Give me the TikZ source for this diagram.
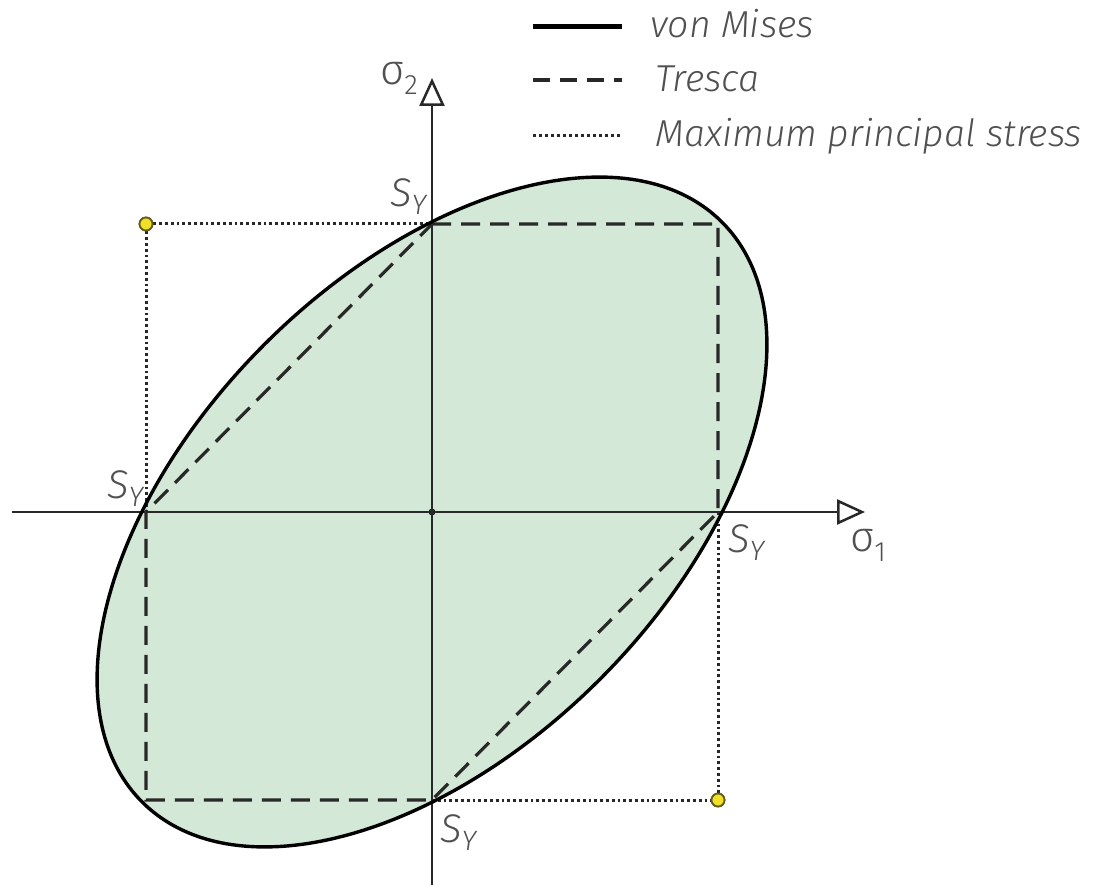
\documentclass[tikz,border=0pt]{standalone}
\usepackage{fontspec}
\newfontfamily\lf{Fira Sans Light}[ItalicFont={Fira Sans Light Italic}]
\usetikzlibrary{arrows.meta}
\definecolor{fillg}{RGB}{212,232,215}
\definecolor{ink}{RGB}{40,40,40}
\definecolor{txt}{RGB}{80,80,80}
\definecolor{dotY}{RGB}{240,225,40}
\definecolor{dotE}{RGB}{100,95,30}
\newcommand{\Ysub}{\raisebox{-8pt}{\fontsize{28}{28}\selectfont Y}}
\begin{document}
\begin{tikzpicture}[x=1pt,y=-1pt,
  axisline/.style={line width=2.3pt, draw=ink, -{Triangle[open,length=28pt,width=25pt,line width=2.5pt]}},
  tresca/.style={line width=3.2pt, draw=ink, dash pattern=on 19pt off 10pt},
  maxp/.style={line width=3pt, draw=ink, dash pattern=on 2.8pt off 3pt},
  mises/.style={line width=3.4pt, draw=black},
  slab/.style={font=\lf\itshape\fontsize{40}{40}\selectfont, text=txt, inner sep=0pt, anchor=base west},
  glab/.style={font=\lf\fontsize{42}{42}\selectfont, text=txt, inner sep=0pt, anchor=base west},
  leg/.style={font=\lf\itshape\fontsize{37.5}{37.5}\selectfont, text=txt, inner sep=0pt, anchor=base west},
  ydot/.style={circle, fill=dotY, draw=dotE, line width=1.8pt, minimum size=13pt, inner sep=0pt}
]
\useasboundingbox (0,0) rectangle (1106,885);
% key points
\coordinate (O) at (432,512);
\coordinate (xl) at (12,512);
\coordinate (xr) at (865,512);
\coordinate (yb) at (432,885);
\coordinate (yt) at (432,78);
\coordinate (top) at (432,224);
\coordinate (tr) at (718,224);
\coordinate (right) at (718,512);
\coordinate (bot) at (432,800);
\coordinate (bl) at (146,800);
\coordinate (left) at (146,512);
% ellipse fill
\fill[fillg, rotate around={45:(O)}] (O) ellipse [x radius=410, y radius=237];
% axes
\draw[axisline] (xl) -- (xr);
\draw[axisline] (yb) -- (yt);
\fill[ink] (O) circle [radius=3.5];
% Tresca
\draw[tresca] (top) -- (tr) -- (right) -- (bot) -- (bl) -- (left) -- cycle;
% max principal stress
\node[ydot] (p1) at (146,224) {};
\node[ydot] (p2) at (718,800) {};
\draw[maxp] (p1) -- (top);
\draw[maxp] (p1) -- (left);
\draw[maxp] (right) -- (p2);
\draw[maxp] (bot) -- (p2);
% von Mises
\draw[mises, rotate around={45:(O)}] (O) ellipse [x radius=410, y radius=237];
\node[ydot] at (p1) {};
\node[ydot] at (p2) {};
% labels
\node[glab] (s2) at (380,85) {σ\raisebox{-10pt}{\fontsize{28}{28}\selectfont 2}};
\node[glab] (s1) at (850,551) {σ\raisebox{-10pt}{\fontsize{28}{28}\selectfont 1}};
\node[slab] (sy1) at (390,207) {S\Ysub};
\node[slab] (sy2) at (107,498) {S\Ysub};
\node[slab] (sy3) at (728,552) {S\Ysub};
\node[slab] (sy4) at (440,842) {S\Ysub};
% legend
\coordinate (la1) at (533,27); \coordinate (lb1) at (622,27);
\coordinate (la2) at (533,80); \coordinate (lb2) at (622,80);
\coordinate (la3) at (533,136); \coordinate (lb3) at (622,136);
\draw[line width=5pt, black] (la1) -- (lb1);
\draw[line width=4pt, ink, dash pattern=on 17pt off 10pt] (la2) -- (lb2);
\draw[line width=3pt, ink, dash pattern=on 2.5pt off 3.5pt] (la3) -- (lb3);
\node[leg] (t1) at (650,38) {von Mises};
\node[leg] (t2) at (655,92) {Tresca};
\node[leg] (t3) at (655,147) {Maximum principal stress};
\end{tikzpicture}
\end{document}
